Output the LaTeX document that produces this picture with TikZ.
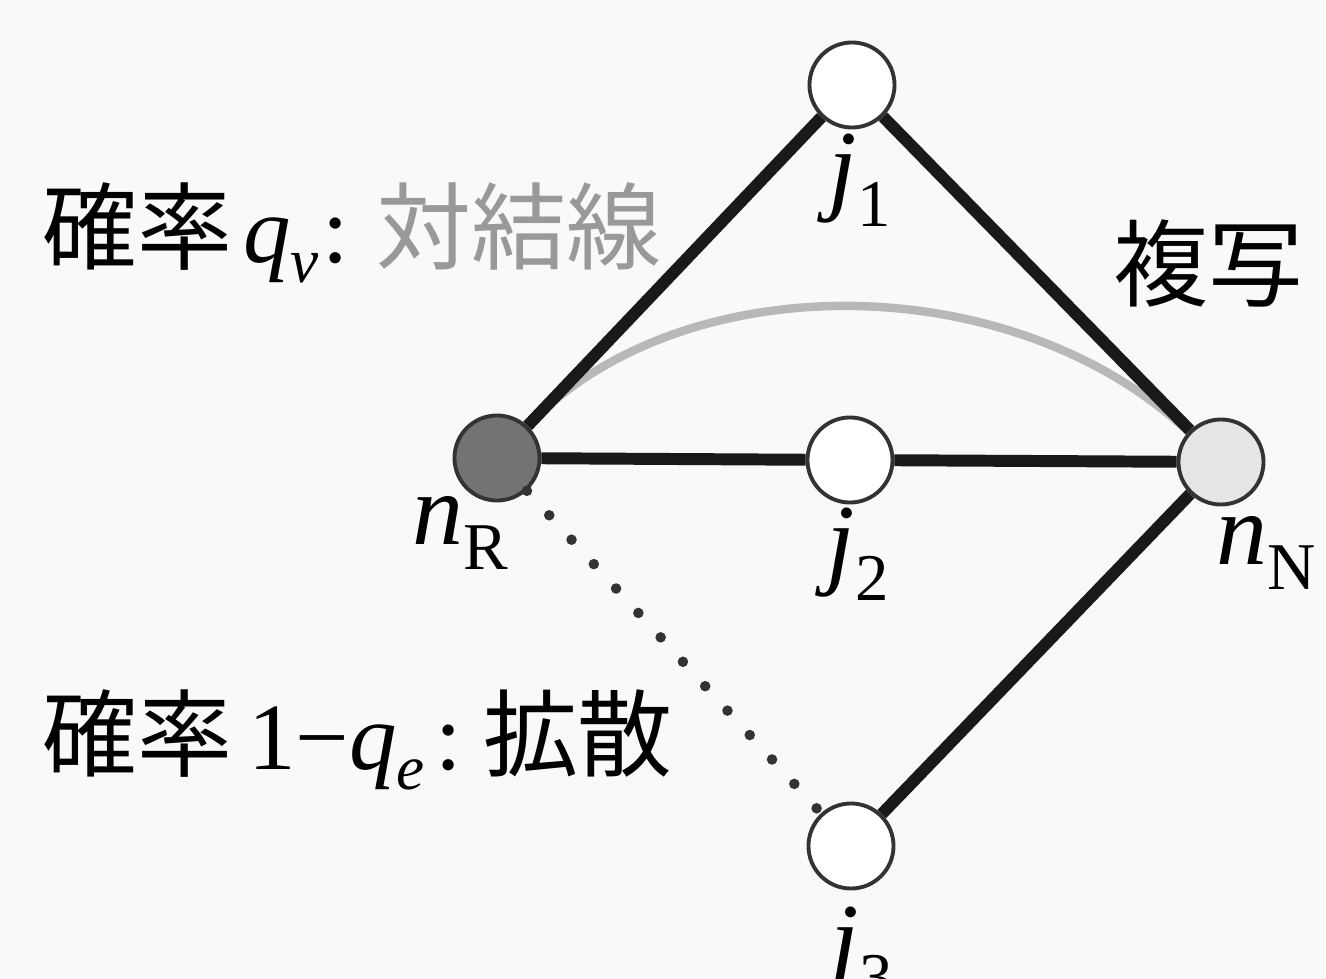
\documentclass[tikz,border=0pt]{standalone}
\usepackage{fontspec}
\setmainfont{Liberation Serif}
\newfontfamily\cjk{Noto Sans CJK JP}
\newcommand\mainsz{\fontsize{29}{29}\selectfont}
\newcommand\subsz{\fontsize{19}{19}\selectfont}
\newcommand\cjksz{\fontsize{27}{27}\selectfont}
\newcommand\symb[2]{{\mainsz\itshape #1}\raisebox{-7pt}{\subsz #2}}
\newcommand\lat[1]{{\rmfamily\fontsize{27}{27}\selectfont #1}}
\newcommand\lsub[1]{\raisebox{-5.5pt}{\rmfamily\fontsize{18}{18}\selectfont\itshape #1}}
\definecolor{bg}{gray}{0.975}
\definecolor{arcgray}{gray}{0.72}
\definecolor{txtgray}{gray}{0.6}
\begin{document}
\begin{tikzpicture}[x=0.01cm,y=-0.01cm,
  vtx/.style={circle,draw=black!80,line width=1.1pt,minimum size=0.85cm,inner sep=0pt,fill=white},
  edge/.style={line width=3.4pt,black!90},
  dotedge/.style={line width=3pt,black!80,line cap=round,dash pattern=on 0pt off 9.4pt},
  arcedge/.style={line width=2.4pt,arcgray},
  lab/.style={anchor=base west,inner sep=0pt},
  cjklab/.style={anchor=base west,inner sep=0pt,font=\cjk\cjksz}]
\fill[bg] (0,0) rectangle (1326,979);
\useasboundingbox (0,0) rectangle (1326,979);

\node[vtx] (j1) at (852,85) {};
\node[vtx] (j2) at (850,460) {};
\node[vtx] (j3) at (851,846) {};
\node[vtx,fill=black!55] (nR) at (497,458) {};
\node[vtx,fill=black!10] (nN) at (1221,462) {};

\draw[arcedge] (nR) .. controls (680,265) and (1010,265) .. (nN);
\draw[edge] (nR) -- (j1);
\draw[edge] (j1) -- (nN);
\draw[edge] (nR) -- (j2);
\draw[edge] (j2) -- (nN);
\draw[edge] (nN) -- (j3);
\draw[dotedge] (nR) -- (j3);

\node[lab] (lj1) at (828,202) {\symb{j}{1}};
\node[lab] (lj2) at (826,576) {\symb{j}{2}};
\node[lab] (lj3) at (830,975) {\symb{j}{3}};
\node[lab] (lnR) at (412,545) {\symb{n}{R}};
\node[lab] (lnN) at (1216,565) {\symb{n}{N}};

\node[cjklab] (copy) at (1113,300) {複写};
\node[cjklab] (p1) at (42,263) {確率\hspace{3pt}\lat{\itshape q}\lsub{v}\hspace{1pt}\lat{:}\hspace{8pt}{\color{txtgray}対結線}};
\node[cjklab] (p2) at (42,770) {確率\hspace{4.5pt}\lat{1−\itshape q}\lsub{e}\hspace{3pt}\lat{:}\hspace{6pt}拡散};
\end{tikzpicture}
\end{document}
